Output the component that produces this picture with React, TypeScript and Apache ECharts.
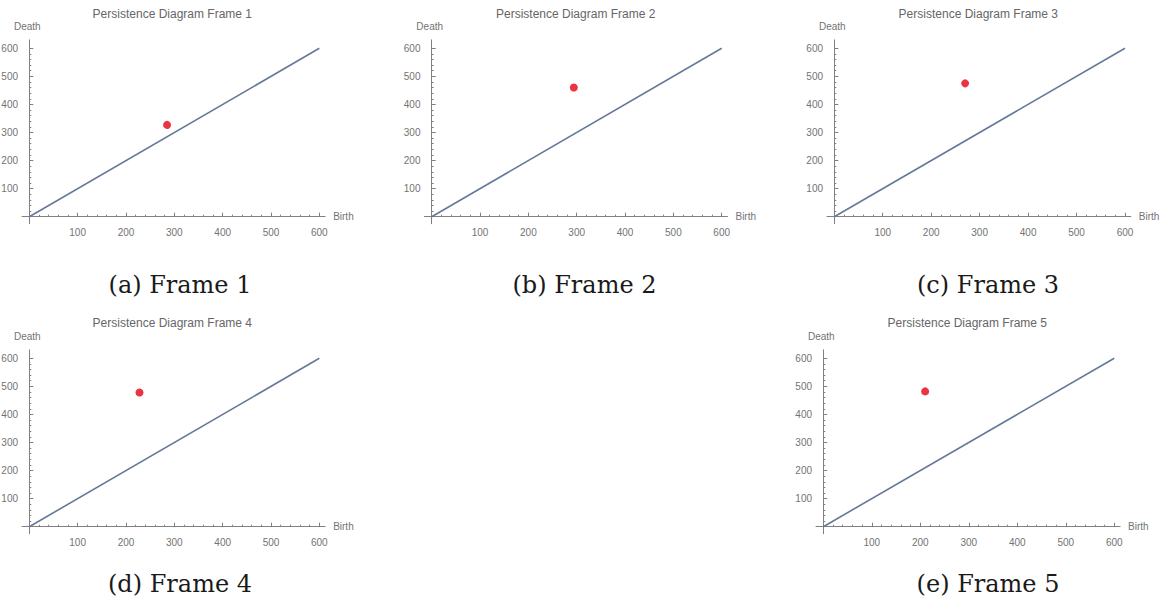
import React, { useEffect, useRef } from "react";
import * as echarts from "echarts";

// Persistence diagram data: one (birth, death) pair per frame
const frameTitles = [
  "Persistence Diagram Frame 1",
  "Persistence Diagram Frame 2",
  "Persistence Diagram Frame 3",
  "Persistence Diagram Frame 4",
  "Persistence Diagram Frame 5",
];
const captions = ["(a) Frame 1", "(b) Frame 2", "(c) Frame 3", "(d) Frame 4", "(e) Frame 5"];
const birthValues = [285, 294, 270, 228, 210];
const deathValues = [327, 460, 475, 478, 482];
const diagonalValues = [0, 600];
const majorTicks = [100, 200, 300, 400, 500, 600];
const minorTicks = [
  0, 20, 40, 60, 80, 120, 140, 160, 180, 220, 240, 260, 280, 320, 340, 360, 380,
  420, 440, 460, 480, 520, 540, 560, 580,
];

// Axis extents (the axes run a little past the data range)
const X_MIN = -15;
const X_MAX = 612;
const Y_MIN = -25;
const Y_MAX = 630;

// Panel placement: origin pixel, horizontal px-per-unit, title and caption anchors
const panelLayout = [
  { ox: 29.3, oy: 216.7, sx: 0.4834, titleX: 172.3, titleY: 13.5, capX: 180, capY: 285 },
  { ox: 431.7, oy: 216.7, sx: 0.4833, titleX: 575.7, titleY: 13.5, capX: 584.5, capY: 285 },
  { ox: 834.3, oy: 216.7, sx: 0.4845, titleX: 978.3, titleY: 13.5, capX: 988, capY: 285 },
  { ox: 29.3, oy: 526.7, sx: 0.4834, titleX: 172.3, titleY: 323.3, capX: 180, capY: 583.5 },
  { ox: 823.3, oy: 526.7, sx: 0.485, titleX: 967.3, titleY: 323.3, capX: 988, capY: 583.5 },
];
const SY = 0.2807;

const AXIS_COLOR = "#808080";
const LABEL_COLOR = "#737373";
const TITLE_COLOR = "#666666";
const LINE_COLOR = "#66789a";
const POINT_COLOR = "#e60012";
const SANS = "'Liberation Sans', Arial, sans-serif";
const SERIF = "'DejaVu Serif', serif";

function buildOption() {
  const grid: any[] = [];
  const xAxis: any[] = [];
  const yAxis: any[] = [];
  const series: any[] = [];
  const graphic: any[] = [];

  panelLayout.forEach((p, i) => {
    grid.push({
      left: p.ox + X_MIN * p.sx,
      top: p.oy - Y_MAX * SY,
      width: (X_MAX - X_MIN) * p.sx,
      height: (Y_MAX - Y_MIN) * SY,
      containLabel: false,
      outerBoundsMode: "none",
    });

    const axisLineStyle = { color: AXIS_COLOR, width: 1 };
    const labelStyle = { color: LABEL_COLOR, fontSize: 10, fontFamily: SANS };

    // major x axis (line, major ticks, labels, name)
    xAxis.push({
      type: "value",
      gridIndex: i,
      min: X_MIN,
      max: X_MAX,
      position: "bottom",
      name: "Birth",
      nameLocation: "end",
      nameGap: 8,
      nameTextStyle: { color: LABEL_COLOR, fontSize: 10, fontFamily: SANS },
      axisLine: { show: true, onZero: true, lineStyle: axisLineStyle },
      axisTick: { show: true, inside: true, length: 4, customValues: majorTicks, lineStyle: axisLineStyle },
      axisLabel: { ...labelStyle, margin: 4, customValues: majorTicks },
      splitLine: { show: false },
    });
    // minor x ticks
    xAxis.push({
      type: "value",
      gridIndex: i,
      min: X_MIN,
      max: X_MAX,
      position: "bottom",
      axisLine: { show: false, onZero: true },
      axisTick: { show: true, inside: true, length: 2, customValues: minorTicks, lineStyle: axisLineStyle },
      axisLabel: { show: false },
      splitLine: { show: false },
    });

    yAxis.push({
      type: "value",
      gridIndex: i,
      min: Y_MIN,
      max: Y_MAX,
      position: "left",
      name: "Death",
      nameLocation: "end",
      nameGap: 8,
      nameTextStyle: { color: LABEL_COLOR, fontSize: 10, fontFamily: SANS, padding: [0, 4, 0, 0] },
      axisLine: { show: true, onZero: true, lineStyle: axisLineStyle },
      axisTick: { show: true, inside: true, length: 4, customValues: majorTicks, lineStyle: axisLineStyle },
      axisLabel: { ...labelStyle, margin: 4, customValues: majorTicks },
      splitLine: { show: false },
    });
    yAxis.push({
      type: "value",
      gridIndex: i,
      min: Y_MIN,
      max: Y_MAX,
      position: "left",
      axisLine: { show: false, onZero: true },
      axisTick: { show: true, inside: true, length: 2, customValues: minorTicks, lineStyle: axisLineStyle },
      axisLabel: { show: false },
      splitLine: { show: false },
    });

    // diagonal birth = death
    series.push({
      type: "line",
      xAxisIndex: 2 * i,
      yAxisIndex: 2 * i,
      data: diagonalValues.map((v) => [v, v]),
      showSymbol: false,
      symbol: "none",
      lineStyle: { color: LINE_COLOR, width: 1.6 },
      silent: true,
    });
    // persistence point
    series.push({
      type: "scatter",
      xAxisIndex: 2 * i,
      yAxisIndex: 2 * i,
      data: [[birthValues[i], deathValues[i]]],
      symbolSize: 8,
      itemStyle: { color: POINT_COLOR },
      z: 5,
    });

    graphic.push({
      type: "text",
      x: p.titleX,
      y: p.titleY,
      style: {
        text: frameTitles[i],
        fill: TITLE_COLOR,
        font: `12px ${SANS}`,
        textAlign: "center",
        textVerticalAlign: "middle",
      },
    });
    graphic.push({
      type: "text",
      x: p.capX,
      y: p.capY,
      style: {
        text: captions[i],
        fill: "#1a1a1a",
        font: `24px ${SERIF}`,
        textAlign: "center",
        textVerticalAlign: "middle",
      },
    });
  });

  return {
    animation: false,
    backgroundColor: "#ffffff",
    grid,
    xAxis,
    yAxis,
    series,
    graphic,
  };
}

export default function App() {
  const ref = useRef<HTMLDivElement>(null);

  useEffect(() => {
    if (!ref.current) return;
    const chart = echarts.init(ref.current, undefined, { renderer: "svg" });
    chart.setOption(buildOption());
    return () => chart.dispose();
  }, []);

  return (
    <div
      ref={ref}
      style={{ position: "absolute", left: 0, top: 0, width: 1168, height: 615, background: "#fff" }}
    />
  );
}
